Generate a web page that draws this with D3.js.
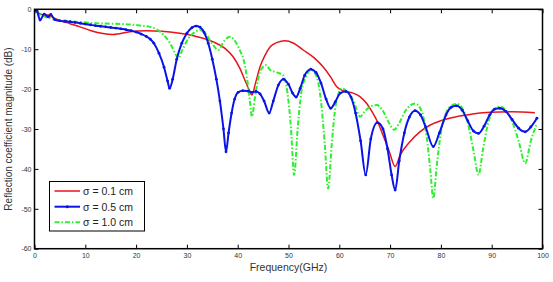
<!DOCTYPE html>
<html><head><meta charset="utf-8">
<script src="https://cdn.jsdelivr.net/npm/d3@7"></script>
<style>body{margin:0;background:#fff}svg{display:block}text{font-family:"Liberation Sans",Arial,sans-serif}</style>
</head><body>
<svg id="c" width="553" height="282"></svg>
<script>
const xTicks = [0,10,20,30,40,50,60,70,80,90,100];
const yTicks = [0,-10,-20,-30,-40,-50,-60];
const yTickLabels = ["0","-10","-20","-30","-40","-50","-60"];
const seriesNames = ["\u03c3 = 0.1 cm","\u03c3 = 0.5 cm","\u03c3 = 1.0 cm"];

const redF = [0,0.5,1.4,2.7,3.7,5,7,9,11,13.2,15.5,18.8,22,25,28.6,31.5,35.1,37.5,39.1,40.5,41.4,42.3,42.8,43.5,44.4,45.4,46.4,47.8,49.3,51,52.9,55,56.8,58.3,59.5,60.7,62.7,64,65.4,66.5,67.7,68.7,69.8,71,72,73.9,75.8,77.9,80,83.1,86,89.7,94,98.5];
const redV = [0,-0.6,-1.3,-1.4,-2.1,-2.8,-3.6,-4.4,-5.3,-6.0,-6.3,-5.6,-5.4,-5.5,-6,-6.7,-8.1,-9.8,-11.9,-15,-17.7,-20.3,-21.5,-18.5,-14.4,-11.5,-9.4,-8.3,-7.9,-8.5,-10.2,-12.1,-14.4,-17,-19.4,-20.4,-21,-21.8,-23.6,-25.8,-28.7,-31.9,-35.5,-39.4,-36.5,-33.2,-30.8,-29,-27.9,-26.9,-26.3,-25.8,-25.7,-25.9];

const blueF = [0,0.5,1.1,1.9,2.7,3.2,4,5,6,7,8,9,10,11,12,13,14,15,16,17,18,19,20,21,22,22.8,23.5,24.5,25.5,26.2,26.6,27.2,28,29,30,31,31.8,32.6,33.4,34.2,35,35.8,36.5,37.2,37.7,38.2,38.8,39.4,40.1,41,42,42.8,43.6,44.4,45.2,46.2,47,48,49,50,50.8,51.5,52.3,53.2,54.4,55.4,56.4,57.4,58.3,59.2,60.2,61.3,62.3,63.2,64.2,65.2,66.2,67.5,68.6,69.5,70.3,71,71.8,72.8,73.8,74.9,76,77,78.5,79.7,81,82,83.1,84.2,85.3,86.4,87.4,88.5,89.6,90.6,91.6,92.8,94,95.3,96.6,97.7,98.9];
const blueV = [0,-0.5,-2.7,-1.2,-1.9,-1.3,-2.6,-2.9,-3.0,-3.1,-3.3,-3.5,-3.7,-3.9,-4.1,-4.25,-4.4,-4.55,-4.7,-4.9,-5.1,-5.35,-5.7,-6.2,-6.8,-7.5,-8.5,-11,-14.5,-18,-19.8,-17.5,-12.5,-8.5,-6.0,-4.6,-4.2,-4.5,-5.8,-8.5,-12.5,-17.5,-23,-30,-35.7,-31,-26,-22.5,-20.8,-20.4,-20.5,-20.8,-20.6,-21.2,-23,-26,-23,-19,-17.5,-18.8,-21,-22,-19.8,-16.5,-15,-15.8,-18.5,-22.5,-24.8,-23.2,-21,-20.6,-22,-26,-33,-41.5,-32.5,-28.4,-30,-35,-41.5,-45.3,-38,-31,-27,-25.4,-26.5,-29.5,-34.4,-31,-26.5,-24.6,-24.2,-25.3,-28,-30.5,-31.1,-29.3,-26.5,-25,-24.8,-25.6,-27.6,-29.8,-30.7,-29.5,-27.3];

const greenF = [0,0.5,1.1,2,3,4.4,6.3,9,12.2,15,18.8,21,22.7,24,25.4,26.7,27.6,28.3,29,30.3,31.5,32.6,33.8,34.9,36.2,37.3,38.5,39.6,40.5,41.1,41.8,42.4,42.8,43.4,44.2,45,45.6,46.4,47.7,48.9,49.8,50.5,51.1,51.8,52.5,53.4,54.4,55.4,56.3,57.1,57.8,58.5,59.3,60.5,61.5,62.8,64.1,65,66.2,67.4,68.6,69.8,70.8,71.8,73,74.9,76.2,77.2,77.9,78.5,79.2,80,81,82,83.1,84.2,85.3,86.5,87.4,88.3,89.3,90.4,91.6,92.8,94,95.3,96.6,97.7,98.9];
const greenV = [0,-0.6,-1.4,-1.8,-2.2,-2.7,-2.9,-3.2,-3.5,-3.6,-3.8,-4.1,-4.4,-5,-6.4,-8.5,-10.8,-12.3,-10.5,-7.3,-5.8,-5.2,-6.3,-8.5,-10.2,-8,-6.9,-8.2,-10.5,-12.3,-17,-23,-26.9,-22,-16.5,-14.4,-14,-15.2,-15.8,-16.5,-21,-30,-41.5,-30,-21,-17,-15.2,-16.5,-22,-33,-44.9,-34,-24,-19.8,-20.6,-23,-26.9,-25.6,-24.3,-24,-25.5,-28.5,-30.2,-28.5,-25.5,-23.6,-25.5,-32,-40,-47.4,-39,-31,-26,-24.2,-23.7,-24.8,-28.5,-36,-41.5,-35,-28.5,-25.2,-24.4,-25.3,-28,-33,-38.6,-33,-28.6];

const colors = ["#e8141c","#0a14e6","#2ef02e"];

const svg = d3.select("#c");
const L=34.5, R=542.5, T=9.3, B=248.7;
const x = d3.scaleLinear().domain([0,100]).range([L,R]);
const y = d3.scaleLinear().domain([-60,0]).range([B,T]);

svg.append("defs").append("clipPath").attr("id","clip")
  .append("rect").attr("x",L).attr("y",T).attr("width",R-L).attr("height",B-T);

const zip = (f,v)=>f.map((d,i)=>[d,v[i]]);
const line = d3.line().x(d=>x(d[0])).y(d=>y(d[1])).curve(d3.curveMonotoneX);
const g = svg.append("g").attr("clip-path","url(#clip)");

const red = zip(redF,redV), blue = zip(blueF,blueV), green = zip(greenF,greenV);
g.append("path").datum(red).attr("d",line).attr("fill","none").attr("stroke",colors[0]).attr("stroke-width",1.5);
g.append("path").datum(green).attr("d",line).attr("fill","none").attr("stroke",colors[2]).attr("stroke-width",2).attr("stroke-dasharray","5,2,1.5,2");
g.append("path").datum(blue).attr("d",line).attr("fill","none").attr("stroke",colors[1]).attr("stroke-width",2);
g.selectAll("circle.b").data(blue).enter().append("circle").attr("class","b")
  .attr("cx",d=>x(d[0])).attr("cy",d=>y(d[1])).attr("r",1.4).attr("fill",colors[1]);

// axes
const axB = d3.axisBottom(x).tickValues(xTicks).tickSize(-4).tickPadding(4);
const axT = d3.axisTop(x).tickValues(xTicks).tickSize(-4).tickFormat("");
const axL = d3.axisLeft(y).tickValues(yTicks).tickSize(-4).tickPadding(3).tickFormat((d,i)=>yTickLabels[i]);
const axR = d3.axisRight(y).tickValues(yTicks).tickSize(-4).tickFormat("");
function style(sel){
  sel.select(".domain").remove();
  sel.selectAll(".tick line").attr("stroke","#000").attr("stroke-width",1);
  sel.selectAll(".tick text").attr("font-size",7).attr("fill","#333").style("font-family","Liberation Sans, Arial, sans-serif");
}
svg.append("g").attr("transform",`translate(0,${B})`).call(axB).call(style);
svg.append("g").attr("transform",`translate(0,${T})`).call(axT).call(style);
svg.append("g").attr("transform",`translate(${L},0)`).call(axL).call(style);
svg.append("g").attr("transform",`translate(${R},0)`).call(axR).call(style);
svg.append("rect").attr("x",L).attr("y",T).attr("width",R-L).attr("height",B-T)
  .attr("fill","none").attr("stroke","#000").attr("stroke-width",1.5);

svg.append("text").attr("x",(L+R)/2).attr("y",271).attr("text-anchor","middle")
  .attr("font-size",10.5).attr("fill","#333").text("Frequency(GHz)");
svg.append("text").attr("transform",`translate(12,${(T+B)/2}) rotate(-90)`).attr("text-anchor","middle")
  .attr("font-size",10).attr("fill","#333").text("Reflection coefficient magnitude (dB)");

// legend
const lg = svg.append("g");
lg.append("rect").attr("x",49.5).attr("y",181.5).attr("width",95).attr("height",49.5)
  .attr("fill","#fff").attr("stroke","#000").attr("stroke-width",1);
const rows=[191,206.7,222.3];
seriesNames.forEach((nm,i)=>{
  const l = lg.append("line").attr("x1",54.5).attr("x2",80).attr("y1",rows[i]).attr("y2",rows[i])
    .attr("stroke",colors[i]).attr("stroke-width",i===0?1.5:2);
  if(i===2) l.attr("stroke-dasharray","5,2,1.5,2");
  if(i===1) lg.append("circle").attr("cx",67.3).attr("cy",rows[i]).attr("r",1.5).attr("fill",colors[1]);
  lg.append("text").attr("x",83).attr("y",rows[i]+3.8).attr("font-size",10.5).attr("fill","#222").text(nm);
});
</script>
</body></html>
